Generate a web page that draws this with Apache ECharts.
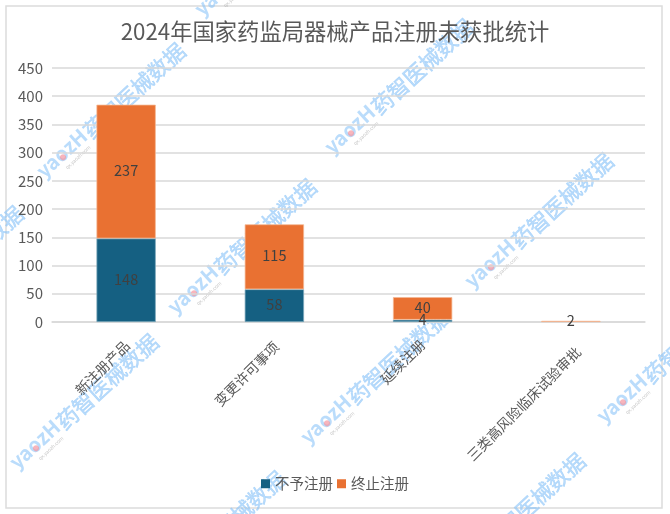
<!DOCTYPE html>
<html>
<head>
<meta charset="utf-8">
<script src="https://cdn.jsdelivr.net/npm/echarts@6/dist/echarts.min.js"></script>
<style>
  html, body { margin: 0; padding: 0; background: #fff; }
  #grafico { width: 670px; height: 514px; }
</style>
</head>
<body>
<div id="grafico"></div>
<script>
// Datos
const categorias = ['新注册产品', '变更许可事项', '延续注册', '三类高风险临床试验审批'];
const noOtorgado = [148, 58, 4, null];
const terminado = [237, 115, 40, 2];
const nombresSeries = ['不予注册', '终止注册'];
const titulo = '2024年国家药监局器械产品注册未获批统计';

// Marca de agua: centros sobre la imagen
const marcasAgua = [
    [111, 112], [242, 248], [399, 88], [539, 222], [84, 403], [375, 378],
    [671, 357], [511, 522], [211, 540], [269, -50], [-51, 275]
];
// Desplaza las etiquetas largas hacia la derecha, como en el original
const paddingEtiquetas = [3, 6, 0, 21];

const fuente = '"Noto Sans CJK SC", "Noto Sans", sans-serif';
const azulMarca = 'rgba(140,196,248,0.6)';

function crearMarca(centro) {
    return {
        type: 'group',
        x: centro[0],
        y: centro[1],
        rotation: Math.PI * 42.5 / 180,
        silent: true,
        z: 100,
        children: [
            {
                type: 'text',
                style: {
                    text: 'yaozH',
                    x: -34, y: -3,
                    align: 'right',
                    verticalAlign: 'middle',
                    font: 'bold 20px ' + fuente,
                    fill: azulMarca
                }
            },
            {
                type: 'text',
                style: {
                    text: '药智医械数据',
                    x: -33, y: 0,
                    align: 'left',
                    verticalAlign: 'middle',
                    font: '21.5px ' + fuente,
                    fill: azulMarca,
                    stroke: azulMarca,
                    lineWidth: 0.5
                }
            },
            {
                type: 'circle',
                shape: { cx: -66, cy: 1, r: 3 },
                style: { fill: 'rgba(245,150,160,0.7)' }
            },
            {
                type: 'text',
                style: {
                    text: 'qx.yaozh.com',
                    x: -55, y: 11,
                    align: 'center',
                    verticalAlign: 'middle',
                    font: '5px ' + fuente,
                    fill: 'rgba(150,150,150,0.55)'
                }
            }
        ]
    };
}

function crearGrafico() {
    const etiqueta = {
        show: true,
        position: 'inside',
        offset: [0, -1],
        color: '#404040',
        fontSize: 14.5,
        fontFamily: fuente
    };
    const richEtiquetas = {};
    paddingEtiquetas.forEach((p, i) => {
        richEtiquetas['c' + i] = {
            color: '#595959',
            fontSize: 14,
            fontFamily: fuente,
            padding: [p, 0, 0, 0]
        };
    });
    return {
        backgroundColor: '#fff',
        animation: false,
        title: {
            text: titulo,
            left: 'center',
            top: 15,
            textStyle: { color: '#595959', fontSize: 22.3, fontWeight: 'normal', fontFamily: fuente }
        },
        legend: {
            data: nombresSeries,
            bottom: 18,
            left: 'center',
            itemWidth: 9,
            itemHeight: 9,
            itemGap: 4,
            icon: 'rect',
            itemStyle: { borderWidth: 0 },
            textStyle: { color: '#595959', fontSize: 14.5, fontFamily: fuente }
        },
        grid: { left: 52, right: 25, top: 68, bottom: 192 },
        xAxis: {
            type: 'category',
            data: categorias,
            axisTick: { show: false },
            axisLine: { lineStyle: { color: '#d9d9d9', width: 1.5 } },
            axisLabel: {
                rotate: 45,
                interval: 0,
                margin: 20,
                formatter: (valor, i) => '{c' + i + '|' + valor + '}',
                rich: richEtiquetas
            }
        },
        yAxis: {
            type: 'value',
            min: 0,
            max: 450,
            interval: 50,
            axisLine: { show: false },
            axisTick: { show: false },
            splitLine: { lineStyle: { color: '#d9d9d9', width: 1.5 } },
            axisLabel: { color: '#595959', fontSize: 15, fontFamily: fuente, margin: 9 }
        },
        series: [
            {
                name: nombresSeries[0],
                type: 'bar',
                stack: 'total',
                barWidth: '40%',
                data: noOtorgado,
                itemStyle: { color: '#156082', borderColor: '#7fa9bc', borderWidth: 0.75 },
                label: etiqueta
            },
            {
                name: nombresSeries[1],
                type: 'bar',
                stack: 'total',
                data: terminado,
                itemStyle: { color: '#E97132', borderColor: '#f4b894', borderWidth: 0.75 },
                label: etiqueta
            }
        ],
        graphic: [
            {
                type: 'rect',
                shape: { x: 6, y: 6, width: 656, height: 502 },
                style: { fill: 'transparent', stroke: '#dcdcdc', lineWidth: 1.5 },
                silent: true,
                z: -1
            }
        ].concat(marcasAgua.map(crearMarca))
    };
}

const myChart = echarts.init(document.getElementById('grafico'), null, { renderer: 'canvas' });
myChart.setOption(crearGrafico());
</script>
</body>
</html>
